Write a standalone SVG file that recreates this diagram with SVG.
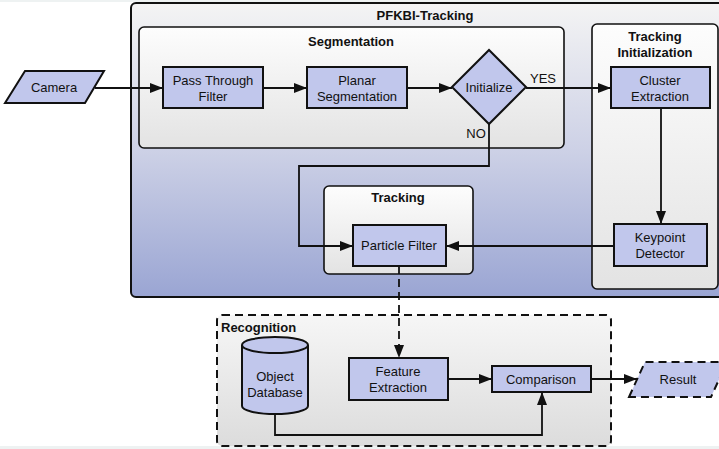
<svg xmlns="http://www.w3.org/2000/svg" width="719" height="449" viewBox="0 0 719 449">
<defs>
<linearGradient id="gOuter" x1="0" y1="0" x2="0" y2="1">
<stop offset="0" stop-color="#f4f4f4"/>
<stop offset="0.5" stop-color="#cdd1e6"/>
<stop offset="1" stop-color="#9aa5d3"/>
</linearGradient>
<linearGradient id="gBox" x1="0" y1="0" x2="0" y2="1">
<stop offset="0" stop-color="#fdfdfd"/>
<stop offset="1" stop-color="#e3e3e3"/>
</linearGradient>
<linearGradient id="gRec" x1="0" y1="0" x2="0" y2="1">
<stop offset="0" stop-color="#f6f6f6"/>
<stop offset="1" stop-color="#dcdcdc"/>
</linearGradient>
<marker id="arr" markerUnits="userSpaceOnUse" markerWidth="14" markerHeight="10" refX="13" refY="5" orient="auto">
<path d="M0,0 L13,5 L0,10 Z" fill="#111"/>
</marker>
</defs>
<style>
.node{fill:#c1c7ec;stroke:#111;stroke-width:2}
.dash{stroke-dasharray:8,5}
.grp{stroke:#111;stroke-width:1.6}
.lbl{font-family:"Liberation Sans",Arial,sans-serif;font-size:13px;fill:#111;text-anchor:middle}
.ttl{font-family:"Liberation Sans",Arial,sans-serif;font-size:13px;font-weight:bold;fill:#111;text-anchor:middle}
.con{fill:none;stroke:#111;stroke-width:1.8}
</style>
<rect x="0" y="0" width="719" height="2" fill="#eef2f2"/>
<rect x="0" y="446" width="719" height="3" fill="#eef2f2"/>

<g id="pfkbi">
<rect x="131" y="3" width="600" height="294" rx="5" fill="url(#gOuter)" stroke="#111" stroke-width="2"/>
<text class="ttl" x="425" y="20">PFKBI-Tracking</text>
</g>
<g id="segmentation">
<rect x="139" y="27" width="425" height="121" rx="5" fill="url(#gBox)" class="grp"/>
<text class="ttl" x="351" y="46">Segmentation</text>
</g>
<g id="tracking-init">
<rect x="592" y="24" width="126" height="265" rx="5" fill="url(#gBox)" class="grp"/>
<text class="ttl" x="655" y="41">Tracking</text>
<text class="ttl" x="655" y="57">Initialization</text>
</g>
<g id="tracking">
<rect x="324" y="186" width="149" height="88" rx="5" fill="url(#gBox)" class="grp"/>
<text class="ttl" x="398" y="202">Tracking</text>
</g>
<g id="recognition">
<rect x="217" y="315" width="394" height="131" rx="5" fill="url(#gRec)" stroke="#111" stroke-width="2" class="dash"/>
<text class="ttl" x="221" y="332" style="text-anchor:start">Recognition</text>
</g>

<g id="connectors">
<path class="con" d="M95,88 H163" marker-end="url(#arr)"/>
<path class="con" d="M263,88 H307" marker-end="url(#arr)"/>
<path class="con" d="M407,88 H452" marker-end="url(#arr)"/>
<path class="con" d="M526,88 H611" marker-end="url(#arr)"/>
<path class="con" d="M489,124 V166 H299 V246 H353" marker-end="url(#arr)"/>
<path class="con" d="M661,108 V224" marker-end="url(#arr)"/>
<path class="con" d="M614,246 H446" marker-end="url(#arr)"/>
<path class="con dash" d="M399,266 V358" marker-end="url(#arr)"/>
<path class="con" d="M448,379 H492" marker-end="url(#arr)"/>
<path class="con" d="M275,412 V435 H542 V392" marker-end="url(#arr)"/>
<path class="con" d="M591,379 H637" marker-end="url(#arr)"/>
<text class="lbl" x="543" y="83">YES</text>
<text class="lbl" x="476" y="138">NO</text>
</g>

<g id="camera">
<polygon class="node" points="5,103 25,71 104,71 85,103"/>
<text class="lbl" x="54" y="92">Camera</text>
</g>
<g id="pass-through">
<rect class="node" x="163" y="67" width="100" height="41"/>
<text class="lbl" x="213" y="85">Pass Through</text>
<text class="lbl" x="213" y="101">Filter</text>
</g>
<g id="planar">
<rect class="node" x="307" y="67" width="100" height="41"/>
<text class="lbl" x="357" y="85">Planar</text>
<text class="lbl" x="357" y="101">Segmentation</text>
</g>
<g id="initialize">
<polygon class="node" points="452,87 489,50 526,87 489,124"/>
<text class="lbl" x="489" y="92">Initialize</text>
</g>
<g id="cluster">
<rect class="node" x="611" y="67" width="99" height="41"/>
<text class="lbl" x="660" y="85">Cluster</text>
<text class="lbl" x="660" y="101">Extraction</text>
</g>
<g id="keypoint">
<rect class="node" x="614" y="224" width="93" height="42"/>
<text class="lbl" x="660" y="242">Keypoint</text>
<text class="lbl" x="660" y="258">Detector</text>
</g>
<g id="particle">
<rect class="node" x="353" y="225" width="93" height="41"/>
<text class="lbl" x="399" y="250">Particle Filter</text>
</g>
<g id="database">
<path class="node" d="M242,345 V406 A33,8 0 0 0 308,406 V345 A33,8 0 0 0 242,345 Z"/>
<path d="M242,345 A33,8 0 0 0 308,345" fill="none" stroke="#111" stroke-width="2"/>
<text class="lbl" x="275" y="381">Object</text>
<text class="lbl" x="275" y="397">Database</text>
</g>
<g id="feature">
<rect class="node" x="349" y="358" width="99" height="42"/>
<text class="lbl" x="398" y="376">Feature</text>
<text class="lbl" x="398" y="392">Extraction</text>
</g>
<g id="comparison">
<rect class="node" x="492" y="366" width="99" height="26"/>
<text class="lbl" x="541" y="384">Comparison</text>
</g>
<g id="result">
<polygon class="node dash" points="629,397 645,362 727,362 711,397"/>
<text class="lbl" x="678" y="384">Result</text>
</g>
</svg>
